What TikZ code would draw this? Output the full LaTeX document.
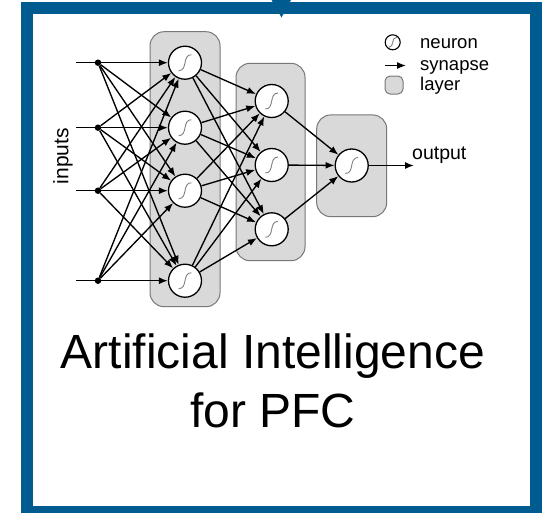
\documentclass[tikz,border=0pt]{standalone}
\usepackage{fontspec}
\setmainfont{Liberation Sans}
\usetikzlibrary{arrows.meta}

\definecolor{framecol}{RGB}{0,91,145}
\definecolor{layerfill}{RGB}{217,217,217}
\definecolor{layeredge}{RGB}{120,120,120}

\tikzset{
  sigmoid/.style={path picture={\draw[gray, line width=0.9pt]
    ([shift={(-0.4*#1,-0.5*#1)}]path picture bounding box.center)
    .. controls +(0.6*#1,0pt) and +(-0.6*#1,0pt) .. ++(0.8*#1,1*#1);}},
  neuron/.style={circle, draw, fill=white, line width=1.3pt, minimum size=33pt, inner sep=0pt, sigmoid=16pt},
  layer/.style={draw=layeredge, fill=layerfill, line width=1pt, rounded corners=14pt, inner sep=0pt},
  dot/.style={circle, fill, inner sep=0pt, minimum size=6.5pt},
  syn/.style={-{Latex[length=9pt,width=7pt]}, line width=1.35pt},
  lbl/.style={inner sep=0pt, font=\fontsize{18.5}{21}\selectfont}
}

\begin{document}
\begin{tikzpicture}[x=1pt, y=-1pt]
\useasboundingbox (0,0) rectangle (545,512);
% frame
\draw[framecol, line width=12pt] (27,8) rectangle (535.5,512);
\fill[framecol] (271.5,0) -- (291,0) -- (281.5,17.5) -- cycle;

% layers
\node[layer, minimum width=70pt, minimum height=275pt] (L1) at (185,169.2) {};
\node[layer, minimum width=69pt, minimum height=197.4pt] (L2) at (270.5,162) {};
\node[layer, minimum width=70pt, minimum height=101.7pt] (L3) at (351.7,165.8) {};

% neurons
\foreach \i/\y in {1/62.7,2/127.7,3/190.7,4/280.7}{
  \coordinate (s\i) at (76,\y);
  \node[dot] (d\i) at (98,\y) {};
  \node[neuron] (a\i) at (185,\y) {};
}
\foreach \j/\y in {1/101,2/165,3/229.3}
  \node[neuron] (b\j) at (271.7,\y) {};
\node[neuron] (c) at (351.7,165.5) {};
\coordinate (out) at (414,165.5);

% synapses
\foreach \i in {1,...,4}{
  \draw[line width=1.35pt] (s\i) -- (d\i);
  \foreach \k in {1,...,4} \draw[syn] (d\i) -- (a\k);
  \foreach \j in {1,2,3} \draw[syn] (a\i) -- (b\j);
}
\foreach \j in {1,2,3} \draw[syn] (b\j) -- (c);
\draw[syn] (c) -- (out);

% labels
\node[rotate=90, inner sep=0pt, font=\fontsize{21}{24}\selectfont] (inputs) at (63,156) {inputs};
\node[lbl, anchor=base west, font=\fontsize{19.5}{22}\selectfont] (outlbl) at (412,159) {output};

% legend
\node[neuron, minimum size=15pt, line width=1.1pt, sigmoid=10pt] (kn) at (392.7,42.3) {};
\coordinate (ka) at (385,65.5);
\coordinate (kb) at (406,65.5);
\draw[syn] (ka) -- (kb);
\node[layer, rounded corners=5pt, minimum width=18pt, minimum height=18pt] (kl) at (394,85) {};
\node[lbl, anchor=base west] (knt) at (420,48.3) {neuron};
\node[lbl, anchor=base west] (kat) at (420,70) {synapse};
\node[lbl, anchor=base west] (klt) at (420,90.7) {layer};

% title
\node[anchor=base, inner sep=0pt, font=\fontsize{48}{58}\selectfont] (title1) at (273,368) {Artificial Intelligence};
\node[anchor=base, inner sep=0pt, font=\fontsize{48}{58}\selectfont] (title2) at (273,427) {for PFC};
\end{tikzpicture}
\end{document}
